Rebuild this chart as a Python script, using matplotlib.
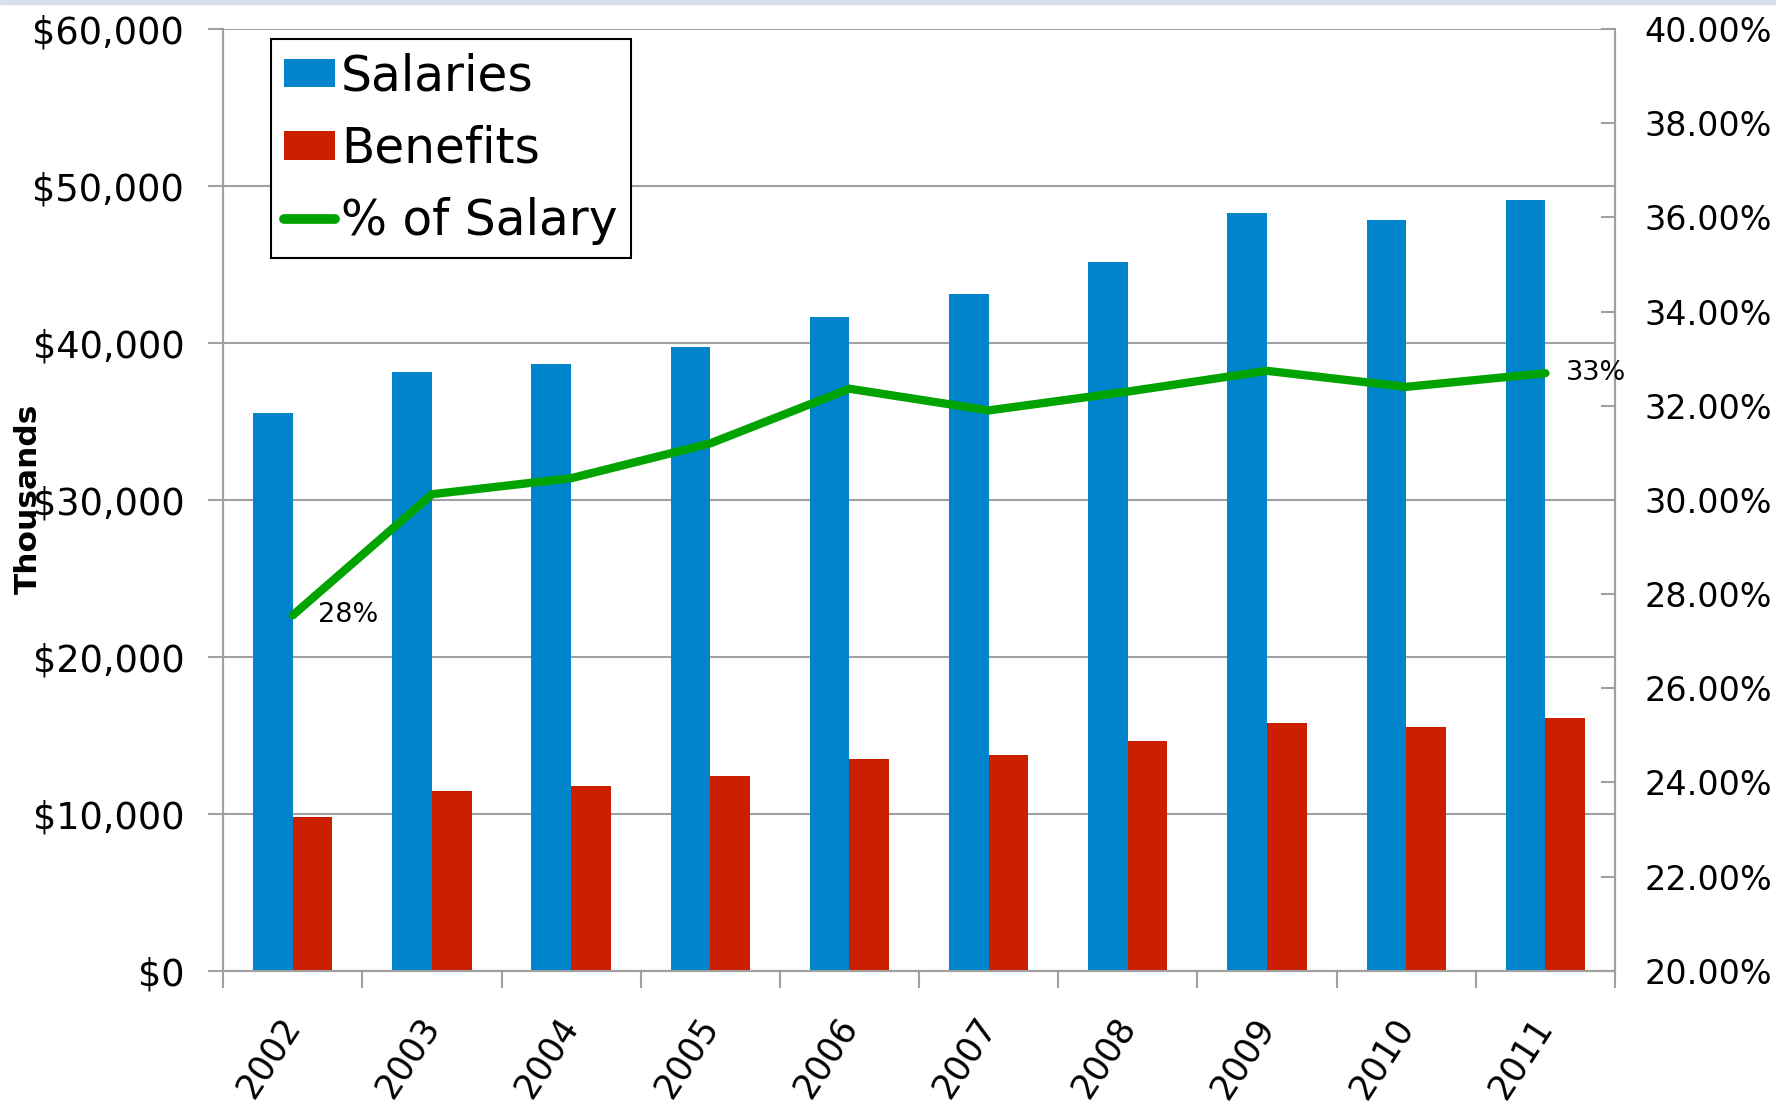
import numpy as np
import matplotlib
matplotlib.use('Agg')
import matplotlib.pyplot as plt
from matplotlib.patches import Rectangle
from matplotlib.ticker import FuncFormatter, FixedLocator

years = ['2002', '2003', '2004', '2005', '2006', '2007', '2008', '2009', '2010', '2011']
salaries = [35550, 38150, 38650, 39750, 41650, 43100, 45150, 48300, 47800, 49100]
benefits = [9800, 11450, 11800, 12400, 13480, 13770, 14640, 15800, 15500, 16080]
pct_salary = [27.55, 30.12, 30.46, 31.2, 32.36, 31.9, 32.3, 32.74, 32.4, 32.69]

blue = '#0084cc'
red = '#cc1f00'
green = '#00a300'
grey = '#a0a0a0'

plt.rcParams['font.family'] = ['DejaVu Sans']

fig = plt.figure(figsize=(17.76, 11.02), dpi=100)
fig.patches.append(Rectangle((0, 0.9965), 1, 0.0035, transform=fig.transFigure,
                             color='#d6e0f0', zorder=0))
ax = fig.add_axes([0.1257, 0.1191, 0.9093 - 0.1257, 0.9737 - 0.1191])
ax2 = ax.twinx()

x = np.arange(len(years))
w = 0.285
b1 = ax.bar(x - w / 2, salaries, w, color=blue, label='Salaries', zorder=3)
b2 = ax.bar(x + w / 2, benefits, w, color=red, label='Benefits', zorder=3)
ln, = ax2.plot(x, pct_salary, color=green, lw=6, solid_capstyle='round',
               solid_joinstyle='miter', label='% of Salary', zorder=4)

ax.set_xlim(-0.5, len(years) - 0.5)
ax.set_ylim(0, 60000)
ax2.set_ylim(20, 40)
ax.set_yticks(np.arange(0, 60001, 10000))
ax2.set_yticks(np.arange(20, 40.01, 2))
ax.yaxis.set_major_formatter(FuncFormatter(lambda v, p: '${:,.0f}'.format(v)))
ax2.yaxis.set_major_formatter(FuncFormatter(lambda v, p: '{:.2f}%'.format(v)))

# ticks at category boundaries, labels at centers
ax.xaxis.set_major_locator(FixedLocator(np.arange(-0.5, len(years), 1.0)))
ax.xaxis.set_minor_locator(FixedLocator(x))
ax.set_xticklabels([])
ax.set_xticklabels(years, minor=True, rotation=57, ha='right', va='center',
                   rotation_mode='anchor', fontsize=25)
ax.tick_params(axis='x', which='major', length=12, width=1.5, color=grey, direction='out')
ax.tick_params(axis='x', which='minor', length=0, pad=36)

ax.tick_params(axis='y', length=11, width=1.5, color=grey, direction='out',
               labelsize=26.5, pad=17)
ax2.tick_params(axis='y', length=10, width=1.5, color=grey, direction='in',
                labelsize=24, pad=21)

ax.grid(axis='y', color=grey, lw=1.5, zorder=0)
ax.set_axisbelow(True)
for a in (ax, ax2):
    a.spines['top'].set_visible(False)
    for s in ('left', 'right', 'bottom'):
        a.spines[s].set_color(grey)
        a.spines[s].set_linewidth(1.5)

fig.text(28 / 1776, 1 - 499 / 1102, 'Thousands', rotation=90, fontsize=22.5,
         fontweight='bold', ha='center', va='center')

ax2.annotate('{:.0f}%'.format(pct_salary[0]), (x[0], pct_salary[0]),
             xytext=(18, 0), textcoords='offset points', fontsize=19.5,
             ha='left', va='center')
ax2.annotate('{:.0f}%'.format(pct_salary[-1]), (x[-1], pct_salary[-1]),
             xytext=(15, 0), textcoords='offset points', fontsize=19.5,
             ha='left', va='center')

leg = ax2.legend(handles=[b1, b2, ln], loc='upper left',
                 bbox_to_anchor=(48 / 1392, 1 - 10 / 942), borderaxespad=0,
                 fontsize=35, frameon=True, fancybox=False, edgecolor='black',
                 framealpha=1, handlelength=1.05, handleheight=0.53,
                 handletextpad=0.12, labelspacing=0.5, borderpad=0.27)
leg.get_frame().set_linewidth(1.5)
leg.get_lines()[0].set_linewidth(7)
leg.set_zorder(10)

fig.savefig('out.png', dpi=100)
